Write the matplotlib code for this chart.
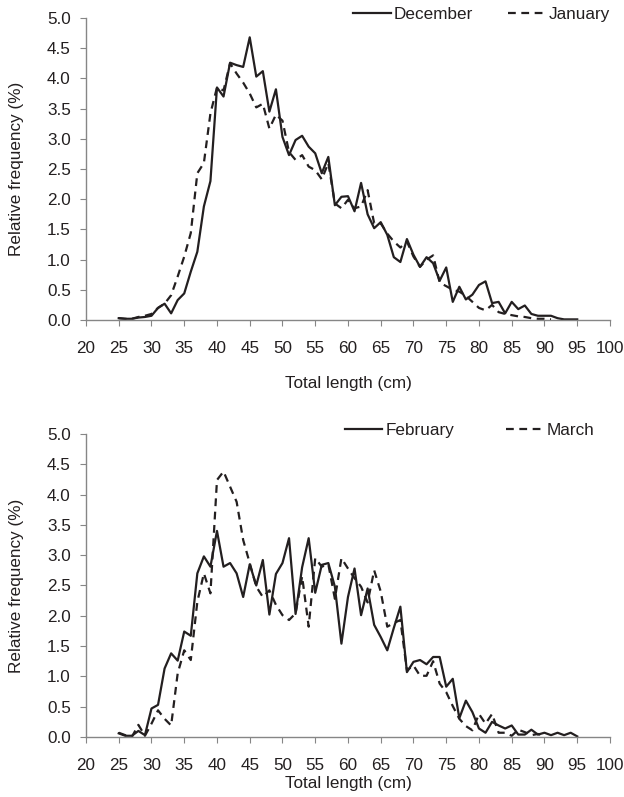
import matplotlib
matplotlib.use("Agg")
import matplotlib.pyplot as plt
from matplotlib.ticker import FormatStrFormatter, MultipleLocator

plt.rcParams['font.family'] = ['Liberation Sans', 'DejaVu Sans']

# Total length classes (cm)
lengths = list(range(25, 96))

december = [0.03, 0.02, 0.02, 0.04, 0.05, 0.07, 0.20, 0.27, 0.11, 0.33,
            0.44, 0.80, 1.13, 1.88, 2.30, 3.85, 3.70, 4.26, 4.22, 4.19,
            4.68, 4.03, 4.12, 3.45, 3.82, 3.03, 2.73, 2.98, 3.05, 2.87,
            2.76, 2.43, 2.70, 1.90, 2.04, 2.05, 1.80, 2.27, 1.75, 1.52,
            1.62, 1.41, 1.04, 0.96, 1.34, 1.08, 0.88, 1.04, 0.94, 0.65,
            0.87, 0.30, 0.55, 0.34, 0.42, 0.58, 0.64, 0.28, 0.30, 0.11,
            0.30, 0.18, 0.24, 0.10, 0.07, 0.07, 0.07, 0.03, 0.01, 0.01,
            0.01]
january = [0.03, 0.02, 0.02, 0.05, 0.07, 0.10, 0.20, 0.27, 0.41, 0.72,
           1.05, 1.44, 2.43, 2.60, 3.42, 3.85, 3.80, 4.25, 4.08, 3.93,
           3.75, 3.52, 3.58, 3.17, 3.40, 3.30, 2.78, 2.65, 2.73, 2.54,
           2.48, 2.33, 2.60, 1.93, 1.85, 1.99, 1.85, 1.88, 2.15, 1.60,
           1.60, 1.43, 1.30, 1.20, 1.30, 1.05, 0.88, 1.00, 1.07, 0.62,
           0.56, 0.50, 0.47, 0.40, 0.30, 0.20, 0.16, 0.25, 0.13, 0.10,
           0.08, 0.06, 0.05, 0.03, 0.02, 0.02, 0.01]
february = [0.06, 0.02, 0.02, 0.10, 0.03, 0.47, 0.53, 1.13, 1.38, 1.26,
            1.74, 1.67, 2.70, 2.98, 2.81, 3.40, 2.81, 2.87, 2.70, 2.31,
            2.85, 2.50, 2.92, 2.02, 2.69, 2.87, 3.28, 2.03, 2.80, 3.28,
            2.38, 2.84, 2.87, 2.48, 1.54, 2.31, 2.78, 2.01, 2.45, 1.85,
            1.65, 1.43, 1.80, 2.15, 1.07, 1.24, 1.27, 1.20, 1.32, 1.32,
            0.83, 0.96, 0.31, 0.60, 0.41, 0.14, 0.07, 0.25, 0.19, 0.14,
            0.19, 0.04, 0.04, 0.12, 0.04, 0.07, 0.03, 0.07, 0.03, 0.07,
            0.01]
march = [0.07, 0.03, 0.00, 0.20, 0.02, 0.22, 0.44, 0.30, 0.19, 1.05,
         1.43, 1.27, 2.23, 2.70, 2.37, 4.24, 4.38, 4.13, 3.88, 3.25,
         2.87, 2.48, 2.31, 2.42, 2.18, 2.01, 1.93, 2.04, 2.65, 1.82,
         2.95, 2.81, 2.85, 2.28, 2.95, 2.78, 2.62, 2.48, 2.22, 2.75,
         2.40, 1.82, 1.88, 1.93, 1.10, 1.18, 1.01, 1.01, 1.25, 0.88,
         0.74, 0.51, 0.30, 0.18, 0.11, 0.38, 0.22, 0.38, 0.07, 0.07,
         0.02, 0.12, 0.08, 0.03, 0.05, 0.02]

LINE = "#231f20"
SPINE = "#868686"
DASH = (0, (3.5, 2.5))
FS = 12.3


def style_axis(ax, xlabel_y):
    ax.set_xlim(20, 100)
    ax.set_ylim(0, 5)
    ax.xaxis.set_major_locator(MultipleLocator(5))
    ax.yaxis.set_major_locator(MultipleLocator(0.5))
    ax.yaxis.set_major_formatter(FormatStrFormatter('%.1f'))
    for s in ["top", "right"]:
        ax.spines[s].set_visible(False)
    for s in ["left", "bottom"]:
        ax.spines[s].set_color(SPINE)
        ax.spines[s].set_linewidth(1.0)
    ax.tick_params(axis="x", direction="out", length=4, color=SPINE,
                   labelsize=FS, labelcolor=LINE, pad=11)
    ax.tick_params(axis="y", direction="out", length=4, color=SPINE,
                   labelsize=FS, labelcolor=LINE, pad=7)
    ax.set_xlabel("Total length (cm)", fontsize=FS, color=LINE)
    ax.set_ylabel("Relative frequency (%)", fontsize=FS, color=LINE)
    ax.xaxis.set_label_coords(0.5, xlabel_y)
    ax.yaxis.set_label_coords(-0.118, 0.5)


fig = plt.figure(figsize=(6.24, 7.97), dpi=100)
ax1 = fig.add_axes([0.1378, 0.5985, 0.8397, 0.3789])
ax2 = fig.add_axes([0.1378, 0.0753, 0.8397, 0.3802])

ax1.plot(lengths, december, color=LINE, lw=1.6, label="December")
ax1.plot(lengths[:len(january)], january, color=LINE, lw=1.6,
         linestyle=DASH, label="January")
style_axis(ax1, -0.185)
ax1.legend(loc="upper right", ncol=2, frameon=False, fontsize=FS,
           bbox_to_anchor=(1.0, 1.035), borderaxespad=0, borderpad=0,
           handlelength=2.2, handletextpad=0.2, columnspacing=2.0,
           labelcolor=LINE)

ax2.plot(lengths, february, color=LINE, lw=1.6, label="February")
ax2.plot(lengths[:len(march)], march, color=LINE, lw=1.6,
         linestyle=DASH, label="March")
style_axis(ax2, -0.13)
ax2.legend(loc="upper right", ncol=2, frameon=False, fontsize=FS,
           bbox_to_anchor=(0.971, 1.035), borderaxespad=0, borderpad=0,
           handlelength=2.2, handletextpad=0.2, columnspacing=3.0,
           labelcolor=LINE)

plt.savefig("out.png", dpi=100)
